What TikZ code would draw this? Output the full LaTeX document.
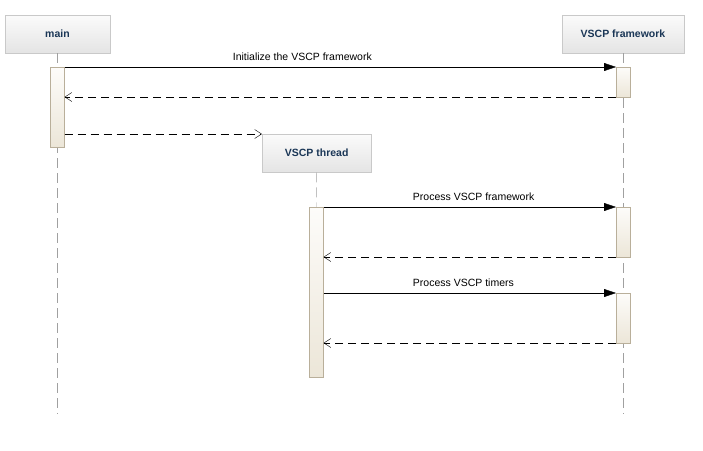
\documentclass[tikz,border=0pt]{standalone}
\usepackage{fontspec}
\setmainfont{Liberation Sans}
\usetikzlibrary{arrows.meta,positioning}
\definecolor{hdrtext}{HTML}{1A3656}
\definecolor{boxline}{HTML}{C9C9C9}
\definecolor{boxtop}{HTML}{FBFBFB}
\definecolor{boxbot}{HTML}{E4E4E4}
\definecolor{actline}{HTML}{B9AF9A}
\definecolor{acttop}{HTML}{FDFCFA}
\definecolor{actbot}{HTML}{ECE6D8}
\definecolor{lifegray}{HTML}{A0A0A0}
\tikzset{
  obj/.style={draw=boxline, top color=boxtop, bottom color=boxbot, minimum height=38pt,
    inner sep=0pt, text=hdrtext, font=\bfseries\fontsize{10.5}{12}\selectfont},
  act/.style={draw=actline, top color=acttop, bottom color=actbot, minimum width=14pt,
    inner sep=0pt, outer sep=0pt, anchor=north},
  life/.style={draw=lifegray, dash pattern=on 10pt off 5pt},
  call/.style={-{Triangle[length=12pt,width=8pt]}},
  ret/.style={dash pattern=on 8pt off 5pt, -{Straight Barb[length=7pt,width=9pt]}},
  lbl/.style={pos=.305, anchor=base west, yshift=6.5pt, inner sep=0pt,
    font=\fontsize{10.5}{12}\selectfont}
}
\begin{document}
\begin{tikzpicture}[x=1pt,y=-1pt]
\useasboundingbox (0,0) rectangle (703,450);
% lifeline heads
\node[obj, minimum width=105pt] (main) at (57.5,34) {main};
\node[obj, minimum width=122pt] (fw) at (623,34) {VSCP framework};
\coordinate (mainend) at (57.5,414);
\coordinate (fwend) at (623,414);
\draw[life] (main.south) -- (mainend);
\draw[life] (fw.south) -- (fwend);
% init
\node[act, minimum height=80pt] (m1) at (57.5,67) {};
\node[act, minimum height=30pt] (f1) at (623,67) {};
\draw[call] (m1.north east) -- (f1.north west) node[lbl] {Initialize the VSCP framework};
\draw[ret] (f1.south west) -- (f1.south west -| m1.east);
% thread
\node[obj, minimum width=109pt, anchor=north west] (thread) at (262,134) {VSCP thread};
\draw[ret] (m1.east |- thread.north) -- (thread.north west);
\node[act, minimum height=170pt] (t1) at (316.5,207) {};
\draw[life] (thread.south) -- (t1.north);
\node[act, minimum height=50pt] (f2) at (623,207) {};
\draw[call] (t1.north east) -- (f2.north west) node[lbl] {Process VSCP framework};
\draw[ret] (f2.south west) -- (f2.south west -| t1.east);
\node[act, minimum height=50pt] (f3) at (623,293) {};
\draw[call] (t1.east |- f3.north) -- (f3.north west) node[lbl] {Process VSCP timers};
\draw[ret] (f3.south west) -- (f3.south west -| t1.east);
\end{tikzpicture}
\end{document}
